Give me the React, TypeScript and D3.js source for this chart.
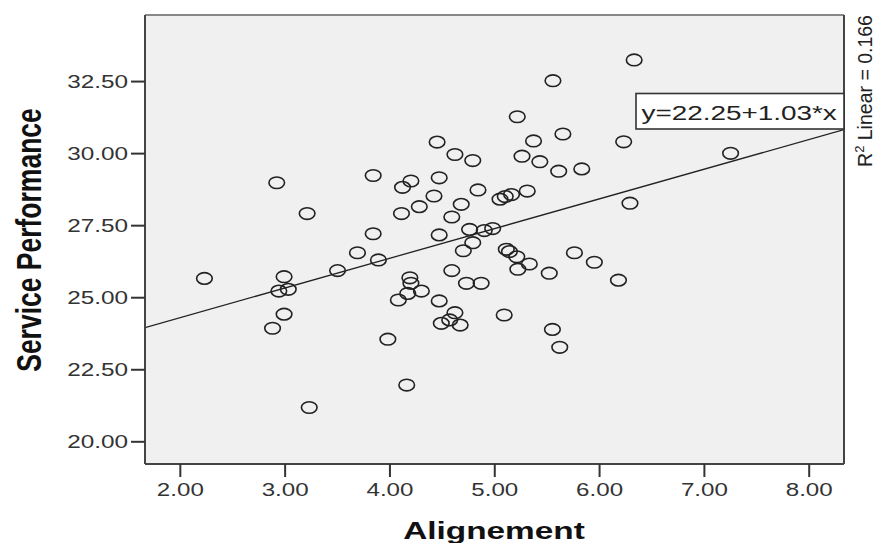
import React from "react";
import * as d3 from "d3";

const alignement: number[] = [
  2.23, 2.88, 2.92, 2.94, 2.99, 2.99, 3.03, 3.21, 3.23, 3.5,
  3.69, 3.84, 3.84, 3.89, 3.98, 4.08, 4.11, 4.12, 4.16, 4.17,
  4.19, 4.2, 4.2, 4.28, 4.3, 4.42, 4.45, 4.47, 4.47, 4.47,
  4.49, 4.57, 4.59, 4.59, 4.62, 4.62, 4.67, 4.68, 4.7, 4.73,
  4.76, 4.79, 4.79, 4.84, 4.87, 4.9, 4.98, 5.05, 5.09, 5.1,
  5.11, 5.14, 5.16, 5.21, 5.215, 5.22, 5.26, 5.31, 5.33, 5.37,
  5.43, 5.52, 5.55, 5.555, 5.61, 5.62, 5.65, 5.76, 5.83, 5.95,
  6.18, 6.23, 6.29, 6.33, 7.25,
];
const servicePerformance: number[] = [
  25.67, 23.94, 28.99, 25.23, 25.73, 24.43, 25.29, 27.92, 21.19, 25.94,
  26.56, 29.24, 27.22, 26.31, 23.56, 24.92, 27.92, 28.83, 21.97, 25.15,
  25.69, 29.05, 25.5, 28.16, 25.23, 28.53, 30.4, 29.16, 27.18, 24.89,
  24.11, 24.23, 27.8, 25.94, 29.97, 24.48, 24.05, 28.24, 26.63, 25.5,
  27.37, 29.76, 26.91, 28.74, 25.5, 27.33, 27.4, 28.42, 24.4, 28.51,
  26.68, 26.6, 28.58, 26.42, 31.28, 25.99, 29.91, 28.7, 26.17, 30.44,
  29.72, 25.85, 23.9, 32.53, 29.39, 23.28, 30.68, 26.56, 29.47, 26.23,
  25.61, 30.41, 28.28, 33.25, 30.01,
];
const xTicks: number[] = [2, 3, 4, 5, 6, 7, 8];
const yTicks: number[] = [20, 22.5, 25, 27.5, 30, 32.5];
const intercept = 22.25;
const slope = 1.03;
const r2 = "0.166";
const xTitle = "Alignement";
const yTitle = "Service Performance";

const W = 879;
const H = 543;
const left = 145, right = 844, top = 15, bottom = 464;

export default function App() {
  const x = d3.scaleLinear().domain([1.663, 8.332]).range([left, right]);
  const y = d3.scaleLinear().domain([19.23, 34.81]).range([bottom, top]);
  const fmt = d3.format(".2f");
  const [x0, x1] = x.domain();
  const lineGen = d3
    .line<number>()
    .x((d) => x(d))
    .y((d) => y(intercept + slope * d));
  const font = "'Liberation Sans', Arial, sans-serif";

  return (
    <svg
      width={W}
      height={H}
      style={{ position: "absolute", left: 0, top: 0, display: "block", background: "#fff" }}
      fontFamily={font}
    >
      <defs>
        <clipPath id="plotclip">
          <rect x={left} y={top} width={right - left} height={bottom - top} />
        </clipPath>
      </defs>
      <rect x={left} y={top} width={right - left} height={bottom - top} fill="#f0f0f0" />

      <g clipPath="url(#plotclip)">
        <path d={lineGen([x0, x1]) || ""} fill="none" stroke="#222" strokeWidth={1.3} />
        {alignement.map((a, i) => (
          <ellipse
            key={i}
            cx={x(a)}
            cy={y(servicePerformance[i])}
            rx={7.8}
            ry={5.8}
            fill="none"
            stroke="#222"
            strokeWidth={1.6}
          />
        ))}
      </g>

      <line x1={left} x2={right} y1={top} y2={top} stroke="#888" strokeWidth={2} />
      <line x1={left} x2={left} y1={top} y2={bottom} stroke="#444" strokeWidth={2} />
      <line x1={right} x2={right} y1={top} y2={bottom} stroke="#444" strokeWidth={2} />
      <line x1={left} x2={right} y1={bottom} y2={bottom} stroke="#444" strokeWidth={2} />

      {/* equation box */}
      <rect x={636} y={93.5} width={right - 636} height={35.5} fill="#fff" stroke="#333" strokeWidth={1.6} />
      <text
        transform={`translate(641.5,120) scale(1.43,1)`}
        fontSize={19.5}
        fill="#222"
      >
        {`y=${intercept.toFixed(2)}+${slope.toFixed(2)}*x`}
      </text>

      {/* y axis ticks */}
      {yTicks.map((t) => (
        <g key={`y${t}`}>
          <line x1={131} x2={left} y1={y(t)} y2={y(t)} stroke="#333" strokeWidth={2} />
          <text
            transform={`translate(128,${y(t) + 6.3}) scale(1.39,1)`}
            textAnchor="end"
            fontSize={17.5}
            fill="#333"
          >
            {fmt(t)}
          </text>
        </g>
      ))}

      {/* x axis ticks */}
      {xTicks.map((t) => (
        <g key={`x${t}`}>
          <line x1={x(t)} x2={x(t)} y1={bottom} y2={477} stroke="#333" strokeWidth={2} />
          <text
            transform={`translate(${x(t)},496) scale(1.38,1)`}
            textAnchor="middle"
            fontSize={17.5}
            fill="#333"
          >
            {fmt(t)}
          </text>
        </g>
      ))}

      {/* axis titles */}
      <text
        transform={`translate(494,538.5) scale(1.39,1)`}
        textAnchor="middle"
        fontSize={24}
        fontWeight="bold"
        fill="#111"
      >
        {xTitle}
      </text>
      <text
        transform={`translate(41,240) rotate(-90) scale(1.0,1.3)`}
        textAnchor="middle"
        fontSize={26.5}
        fontWeight="bold"
        fill="#111"
      >
        {yTitle}
      </text>

      {/* R squared */}
      <text
        transform={`translate(872,91) rotate(-90) scale(1,1.05)`}
        textAnchor="middle"
        fontSize={19.5}
        fill="#222"
      >
        R<tspan fontSize={13} dy={-7.5}>2</tspan>
        <tspan dy={7.5}>{` Linear = ${r2}`}</tspan>
      </text>
    </svg>
  );
}
